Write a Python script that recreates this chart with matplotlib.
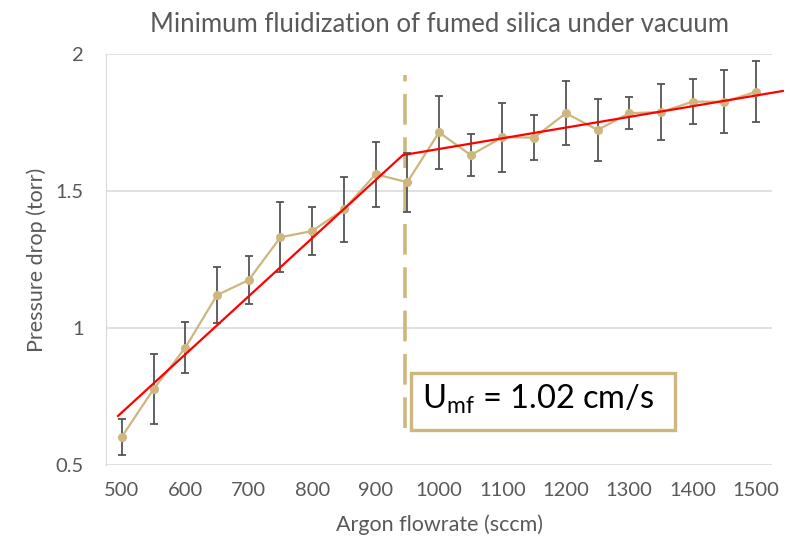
import matplotlib.pyplot as plt
from matplotlib.patches import Rectangle

plt.rcParams['font.family'] = ['Lato', 'DejaVu Sans']
plt.rcParams['mathtext.fontset'] = 'custom'
plt.rcParams['mathtext.rm'] = 'Lato'
plt.rcParams['mathtext.it'] = 'Lato'

# measured data
flowrate = [500, 550, 600, 650, 700, 750, 800, 850, 900, 950, 1000,
            1050, 1100, 1150, 1200, 1250, 1300, 1350, 1400, 1450, 1500]
pressure = [0.603, 0.777, 0.928, 1.120, 1.175, 1.331, 1.354, 1.433, 1.561, 1.532, 1.714,
            1.631, 1.696, 1.695, 1.784, 1.723, 1.784, 1.788, 1.826, 1.826, 1.862]
error = [0.066, 0.129, 0.093, 0.101, 0.086, 0.128, 0.089, 0.118, 0.118, 0.108, 0.133,
         0.076, 0.126, 0.081, 0.117, 0.114, 0.059, 0.103, 0.083, 0.114, 0.111]

# two-segment fit and Umf marker
fit_x = [494, 943, 1542]
fit_y = [0.679, 1.631, 1.865]
umf_x = 947
umf_y = [0.634, 1.923]
label = 'U$_{\\mathrm{mf}}$ = 1.02 cm/s'

gold = '#CDB77F'
gray = '#595959'

fig = plt.figure(figsize=(7.94, 5.46), dpi=100)
ax = fig.add_axes([0.1335, 0.1484, 0.8388, 0.7527])

ax.errorbar(flowrate, pressure, yerr=error, fmt='none', ecolor='#555555',
            elinewidth=1.3, capsize=2.6, capthick=1.3, zorder=3)
ax.plot(flowrate, pressure, color=gold, lw=1.6, marker='o', ms=5.5, zorder=4)
ax.plot(fit_x, fit_y, color='#FF0000', lw=1.6, zorder=5, clip_on=False)
ax.plot([umf_x, umf_x], umf_y, color=gold, lw=2.6, dashes=(8.5, 3.5), zorder=2)

ax.add_patch(Rectangle((956, 0.628), 416, 0.208, fill=False, edgecolor=gold,
                       lw=2.4, zorder=6))
ax.text(973, 0.738, label, fontsize=23.5, color='black', va='center', ha='left', zorder=7)

ax.set_xlim(475, 1525)
ax.set_ylim(0.5, 2)
ax.set_xticks(range(500, 1501, 100))
ax.set_yticks([0.5, 1, 1.5, 2])
ax.set_yticklabels(['0.5', '1', '1.5', '2'])
ax.grid(axis='y', color='#D9D9D9', lw=1.1)
ax.set_axisbelow(True)
for s in ['top', 'right', 'bottom']:
    ax.spines[s].set_visible(False)
ax.spines['left'].set_color('#D9D9D9')
ax.tick_params(length=0, labelsize=14.5, colors=gray)
ax.tick_params(axis='x', pad=12)
ax.tick_params(axis='y', pad=16)

ax.set_title('Minimum fluidization of fumed silica under vacuum', fontsize=18.5,
             color=gray, pad=16)
ax.set_xlabel('Argon flowrate (sccm)', fontsize=15.5, color=gray, labelpad=11)
ax.set_ylabel('Pressure drop (torr)', fontsize=15.5, color=gray, labelpad=6)

fig.savefig('out.png', dpi=100)
